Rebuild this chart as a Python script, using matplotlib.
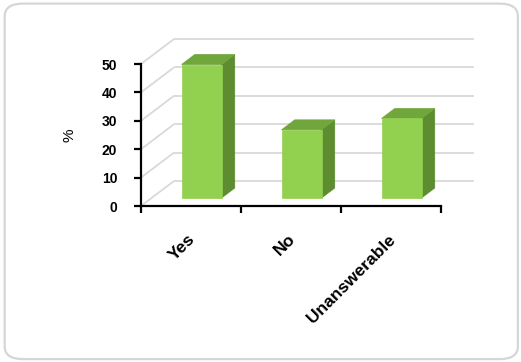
import matplotlib
matplotlib.use("Agg")
import matplotlib.pyplot as plt
from matplotlib.patches import Polygon, FancyBboxPatch
from matplotlib.transforms import offset_copy

plt.rcParams['font.family'] = ['Liberation Sans', 'DejaVu Sans']

# Chart data
categories = ["Yes", "No", "Unanswerable"]
values = [47, 24, 28]
y_ticks = [0, 10, 20, 30, 40, 50]

# Colours of the three visible faces of each bar
FRONT = "#92D050"
SIDE = "#5E8C31"
TOP = "#70A63C"
GRID = "#D9D9D9"

# Depth of the 3-D box (in data units) and placement of bars inside it
DEPTH_X, DEPTH_Y = 0.33, 8.8
BAR_OFF = 0.32      # fraction of depth where the bar front sits
BAR_DEPTH = 0.40    # fraction of depth taken by the bar
HALF_W = 0.20

fig = plt.figure(figsize=(5.21, 3.62), dpi=100)

# Rounded outer frame
frame = FancyBboxPatch((0.009, 0.008), 0.985, 0.982,
                       boxstyle="round,pad=0,rounding_size=0.035",
                       transform=fig.transFigure, facecolor="none",
                       edgecolor="#D6D6D6", linewidth=1.6, zorder=0)
fig.patches.append(frame)

ax = fig.add_axes([0.2706, 0.4309, 0.5758, 0.3923])
ax.set_xlim(-0.5, len(categories) - 0.5)
ax.set_ylim(0, 50)
ax.patch.set_alpha(0)

x0, x1 = -0.5, len(categories) - 0.5

# Side-wall and back-wall gridlines
for v in y_ticks:
    ax.plot([x0, x0 + DEPTH_X], [v, v + DEPTH_Y], color=GRID, lw=1.3,
            clip_on=False, zorder=1, solid_capstyle="butt")
    ax.plot([x0 + DEPTH_X, x1 + DEPTH_X], [v + DEPTH_Y, v + DEPTH_Y],
            color=GRID, lw=1.3, clip_on=False, zorder=1,
            solid_capstyle="butt")

# 3-D bars
ox, oy = BAR_OFF * DEPTH_X, BAR_OFF * DEPTH_Y
dx, dy = BAR_DEPTH * DEPTH_X, BAR_DEPTH * DEPTH_Y
for i, v in enumerate(values):
    l, r = i + ox - HALF_W, i + ox + HALF_W
    b, t = oy, oy + v
    front = [(l, b), (r, b), (r, t), (l, t)]
    side = [(r, b), (r + dx, b + dy), (r + dx, t + dy), (r, t)]
    top = [(l, t), (r, t), (r + dx, t + dy), (l + dx, t + dy)]
    for pts, c in ((side, SIDE), (top, TOP), (front, FRONT)):
        ax.add_patch(Polygon(pts, closed=True, facecolor=c,
                             edgecolor=c, lw=0.5, clip_on=False, zorder=3))

# Axes styling
for s in ("top", "right"):
    ax.spines[s].set_visible(False)
for s in ("left", "bottom"):
    ax.spines[s].set_linewidth(1.6)
    ax.spines[s].set_color("black")
    ax.spines[s].set_zorder(5)

ax.set_yticks(y_ticks)
ax.set_yticklabels([str(t) for t in y_ticks], fontsize=10, fontweight="bold")
ax.tick_params(axis="y", direction="out", length=5, width=1.6, pad=12)

ax.set_xticks([k - 0.5 for k in range(len(categories) + 1)])
ax.set_xticklabels([])
ax.tick_params(axis="x", direction="out", length=5, width=1.6)

lab_tr = offset_copy(ax.transData, fig=fig, x=2, y=-31, units="dots")
for i, c in enumerate(categories):
    ax.text(i, 0, c, transform=lab_tr, rotation=45, rotation_mode="anchor",
            ha="right", va="center", fontsize=12.5, fontweight="bold")

ax.set_ylabel("%", fontsize=11, labelpad=18)

fig.savefig("out.png", dpi=100)
